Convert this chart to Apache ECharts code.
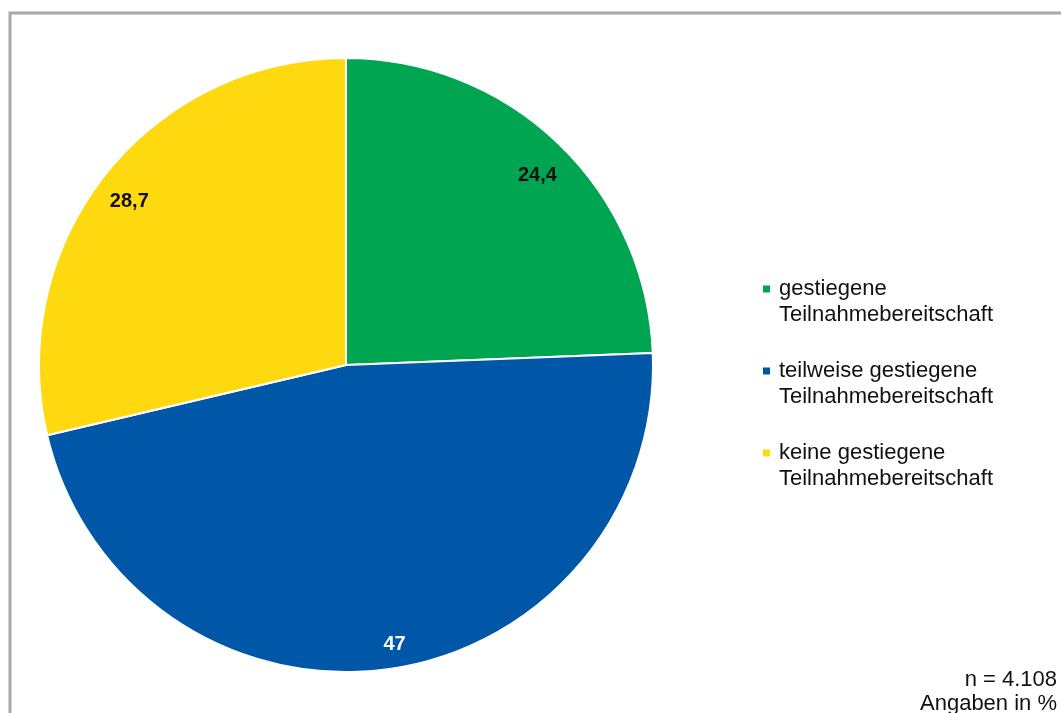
<!DOCTYPE html>
<html>
<head>
<meta charset="utf-8">
<script src="https://cdn.jsdelivr.net/npm/echarts@6/dist/echarts.min.js"></script>
<style>
html,body{margin:0;padding:0;background:#fff;}
#chart{width:1061px;height:713px;}
</style>
</head>
<body>
<div id="chart"></div>
<script>
const categories = ['gestiegene\nTeilnahmebereitschaft', 'teilweise gestiegene\nTeilnahmebereitschaft', 'keine gestiegene\nTeilnahmebereitschaft'];
const values = [24.4, 47, 28.7];
const valueLabels = ['24,4', '47', '28,7'];
const colors = ['#00a551', '#0057a8', '#ffd90f'];
const labelColors = ['#111111', '#ffffff', '#111111'];
const labelOffsets = [[-2, 12], [11, 3], [2, 10]];
const noteLines = ['n = 4.108', 'Angaben in %'];

const font = '"Liberation Sans", Arial, sans-serif';
const chart = echarts.init(document.getElementById('chart'), null, {renderer: 'canvas'});

const pieData = categories.map((c, i) => ({
  name: c, value: values[i], itemStyle: {color: colors[i]}
}));
const labelData = categories.map((c, i) => ({
  name: c, value: values[i],
  label: {color: labelColors[i], formatter: valueLabels[i], offset: labelOffsets[i]}
}));

const rich = {
  t: {fontFamily: font, fontSize: 22, color: '#111', lineHeight: 26},
  gap: {width: 9, height: 7},
  ind: {width: 16, height: 7}
};
colors.forEach((c, i) => { rich['s' + i] = {width: 7, height: 7, backgroundColor: c}; });

chart.setOption({
  animation: false,
  backgroundColor: '#ffffff',
  legend: {
    orient: 'vertical',
    left: 753,
    top: 271,
    icon: 'none',
    itemWidth: 0,
    itemHeight: 0,
    itemGap: 30,
    data: categories,
    formatter: function (name) {
      const i = categories.indexOf(name);
      const parts = name.split('\n');
      return '{s' + i + '|}{gap|}{t|' + parts[0] + '}\n{ind|}{t|' + parts[1] + '}';
    },
    textStyle: {fontFamily: font, fontSize: 22, color: '#111', lineHeight: 26, rich: rich}
  },
  graphic: [
    {type: 'rect', shape: {x: 10, y: 13, width: 1200, height: 900}, style: {fill: 'none', stroke: '#a8a8a8', lineWidth: 3}, silent: true},
    {type: 'text', right: 4, top: 669, style: {text: noteLines[0], font: '22px ' + font, fill: '#111', textAlign: 'right'}},
    {type: 'text', right: 4, top: 693, style: {text: noteLines[1], font: '22px ' + font, fill: '#111', textAlign: 'right'}}
  ],
  series: [
    {
      type: 'pie',
      center: [346, 365],
      radius: [0, 307],
      startAngle: 90,
      clockwise: true,
      data: pieData,
      label: {show: false},
      labelLine: {show: false},
      itemStyle: {borderColor: '#ffffff', borderWidth: 2},
      emphasis: {disabled: true},
      silent: true
    },
    {
      type: 'pie',
      center: [346, 365],
      radius: [245, 307],
      startAngle: 90,
      clockwise: true,
      data: labelData,
      itemStyle: {color: 'rgba(0,0,0,0)'},
      label: {show: true, position: 'inside', fontFamily: font, fontSize: 20, fontWeight: 'bold'},
      labelLine: {show: false},
      emphasis: {disabled: true},
      legendHoverLink: false,
      silent: true
    }
  ]
});
</script>
</body>
</html>
